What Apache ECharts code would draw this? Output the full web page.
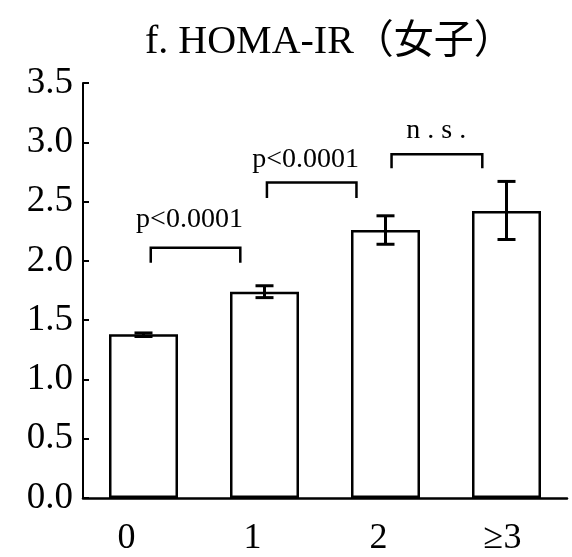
<!DOCTYPE html>
<html>
<head>
<meta charset="utf-8">
<script src="https://cdn.jsdelivr.net/npm/echarts@6/dist/echarts.min.js"></script>
<style>
html, body { margin: 0; padding: 0; background: #fff; }
#main { width: 572px; height: 557px; }
</style>
</head>
<body>
<div id="main"></div>
<script>
// data
var categories = ['0', '1', '2', '≥3'];
var means = [1.38, 1.74, 2.26, 2.42];
var errLow = [1.362, 1.69, 2.14, 2.18];
var errHigh = [1.392, 1.79, 2.38, 2.67];

// significance brackets (x in category units, y in axis units)
var bracketText = ['p<0.0001', 'p<0.0001', 'n . s .'];
var bracketFrom = [0.06, 1.02, 2.05];
var bracketTo = [0.80, 1.76, 2.80];
var bracketTop = [2.11, 2.66, 2.90];
var bracketLeg = [1.985, 2.53, 2.78];
var textX = [0.38, 1.34, 2.42];
var textY = [2.35, 2.85, 3.10];

(function () {
    var serif = '"Liberation Serif", "Times New Roman", "Noto Sans CJK JP", serif';
    // x labels in the figure sit a little left of the bar centres
    var labelShift = [17, 12, 7, 4];
    var rich = {};
    labelShift.forEach(function (s, i) {
        rich['c' + i] = { fontSize: 36, fontFamily: serif, color: '#000', padding: [0, s * 2, 0, 0] };
    });

    var myChart = echarts.init(document.getElementById('main'));

    var option = {
        animation: false,
        title: {
            text: 'f. HOMA-IR（女子）',
            left: 140,
            top: 18,
            textStyle: { fontSize: 40, fontWeight: 'normal', fontFamily: serif, color: '#000' }
        },
        grid: { left: 83, right: 5, top: 83, bottom: 58 },
        xAxis: {
            type: 'category',
            data: categories,
            axisLine: { lineStyle: { color: '#000', width: 2.5 } },
            axisTick: { inside: true, length: 6, lineStyle: { color: '#000', width: 2 } },
            axisLabel: {
                margin: 23,
                formatter: function (v, i) { return '{c' + i + '|' + v + '}'; },
                rich: rich
            }
        },
        yAxis: {
            type: 'value',
            min: 0,
            max: 3.5,
            interval: 0.5,
            splitLine: { show: false },
            axisLine: { show: true, lineStyle: { color: '#000', width: 2 } },
            axisTick: { show: true, inside: true, length: 6, lineStyle: { color: '#000', width: 2 } },
            axisLabel: {
                margin: 10,
                fontSize: 37,
                fontFamily: serif,
                color: '#000',
                formatter: function (v) { return v.toFixed(1); }
            }
        },
        series: [
            {
                type: 'bar',
                data: means,
                barWidth: 69,
                itemStyle: { color: '#fff', borderColor: '#000', borderWidth: 2.5 }
            },
            {
                type: 'custom',
                z: 5,
                data: categories.map(function (c, i) { return [i, errLow[i], errHigh[i]]; }),
                encode: { x: 0, y: [1, 2] },
                renderItem: function (params, api) {
                    var lo = api.coord([api.value(0), api.value(1)]);
                    var hi = api.coord([api.value(0), api.value(2)]);
                    var w = 9;
                    var st = { stroke: '#000', lineWidth: 3 };
                    return {
                        type: 'group',
                        children: [
                            { type: 'line', shape: { x1: lo[0], y1: lo[1], x2: hi[0], y2: hi[1] }, style: st },
                            { type: 'line', shape: { x1: lo[0] - w, y1: lo[1], x2: lo[0] + w, y2: lo[1] }, style: st },
                            { type: 'line', shape: { x1: hi[0] - w, y1: hi[1], x2: hi[0] + w, y2: hi[1] }, style: st }
                        ]
                    };
                }
            },
            {
                type: 'custom',
                z: 5,
                clip: false,
                data: bracketText.map(function (t, i) { return [0, bracketTop[i]]; }),
                encode: { x: 0, y: 1 },
                renderItem: function (params, api) {
                    var i = params.dataIndex;
                    var c0 = api.coord([0, 0])[0];
                    var band = api.size([1, 0])[0];
                    var x0 = c0 + bracketFrom[i] * band;
                    var x1 = c0 + bracketTo[i] * band;
                    var yt = api.coord([0, bracketTop[i]])[1];
                    var yl = api.coord([0, bracketLeg[i]])[1];
                    var tx = c0 + textX[i] * band;
                    var ty = api.coord([0, textY[i]])[1];
                    return {
                        type: 'group',
                        children: [
                            {
                                type: 'polyline',
                                shape: { points: [[x0, yl], [x0, yt], [x1, yt], [x1, yl]] },
                                style: { stroke: '#000', lineWidth: 2.5, fill: null }
                            },
                            {
                                type: 'text',
                                x: tx,
                                y: ty,
                                style: {
                                    text: bracketText[i],
                                    fill: '#000',
                                    font: '28px ' + serif,
                                    align: 'center',
                                    verticalAlign: 'middle'
                                }
                            }
                        ]
                    };
                }
            }
        ]
    };

    myChart.setOption(option);
})();
</script>
</body>
</html>
